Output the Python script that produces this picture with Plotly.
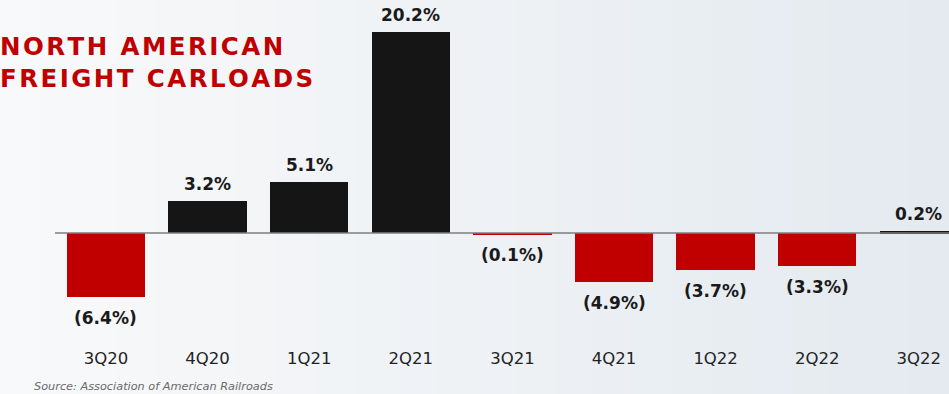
import plotly.graph_objects as go

categories = ["3Q20", "4Q20", "1Q21", "2Q21", "3Q21", "4Q21", "1Q22", "2Q22", "3Q22"]
values = [-6.4, 3.2, 5.1, 20.2, -0.1, -4.9, -3.7, -3.3, 0.2]
title_lines = ["NORTH AMERICAN", "FREIGHT CARLOADS"]
source_text = "Source: Association of American Railroads"

W, H = 949, 394
RED = "#c00000"
BLACK = "#151515"

def fmt(v):
    return f"({abs(v):.1f}%)" if v < 0 else f"{v:.1f}%"

def spaced(s):
    hs = "\u200a"
    return hs.join(list(s))

colors = [RED if v < 0 else BLACK for v in values]

fig = go.Figure()
fig.add_trace(go.Bar(
    x=categories, y=values, marker=dict(color=colors, line=dict(width=0)),
    width=0.77, hoverinfo="skip", showlegend=False,
))

annotations = []
for c, v in zip(categories, values):
    annotations.append(dict(
        x=c, y=v, xref="x", yref="y", text=f"<b>{fmt(v)}</b>", showarrow=False,
        yanchor="bottom" if v >= 0 else "top", yshift=5 if v >= 0 else -9,
        font=dict(family="DejaVu Sans", size=17, color="#1a1a1a"),
    ))

annotations.append(dict(
    x=-0.002, y=(340 - 30) / 340, xref="paper", yref="paper", xanchor="left", yanchor="top",
    text="<b>" + "<br>".join(spaced(t) for t in title_lines) + "</b>", align="left",
    showarrow=False, font=dict(family="DejaVu Sans", size=24.5, color=RED),
))
annotations.append(dict(
    x=32 / W, y=(340 - 386) / 340, xref="paper", yref="paper", xanchor="left", yanchor="middle",
    text=f"<i>{source_text}</i>", showarrow=False,
    font=dict(family="DejaVu Sans", size=11.3, color="#6a6a6a"),
))

shapes = []
n = 24
c0 = (248, 249, 250)
c1 = (228, 234, 240)
for i in range(n):
    t = i / (n - 1)
    col = tuple(int(round(a + (b - a) * t)) for a, b in zip(c0, c1))
    shapes.append(dict(type="rect", xref="paper", yref="paper", x0=i / n, x1=(i + 1) / n + 0.002,
                       y0=-60 / 340, y1=1.01, fillcolor="rgb(%d,%d,%d)" % col,
                       line=dict(width=0), layer="below"))
shapes.append(dict(type="line", xref="paper", yref="y", x0=55 / W, x1=1, y0=0, y1=0,
                   line=dict(color="#7e7e7e", width=1.6), layer="above"))

fig.update_layout(
    width=W, height=H, margin=dict(l=0, r=0, t=0, b=54),
    paper_bgcolor="#f2f5f8", plot_bgcolor="rgba(0,0,0,0)",
    xaxis=dict(range=[-1.043, 8.297], showgrid=False, zeroline=False, showline=False,
               ticks="", tickfont=dict(family="DejaVu Sans", size=16.5, color="#222"),
               ticklabelstandoff=6, fixedrange=True),
    yaxis=dict(range=[-10.75, 23.42], visible=False, fixedrange=True),
    annotations=annotations, shapes=shapes, bargap=0,
)

fig.write_html("out.html")
